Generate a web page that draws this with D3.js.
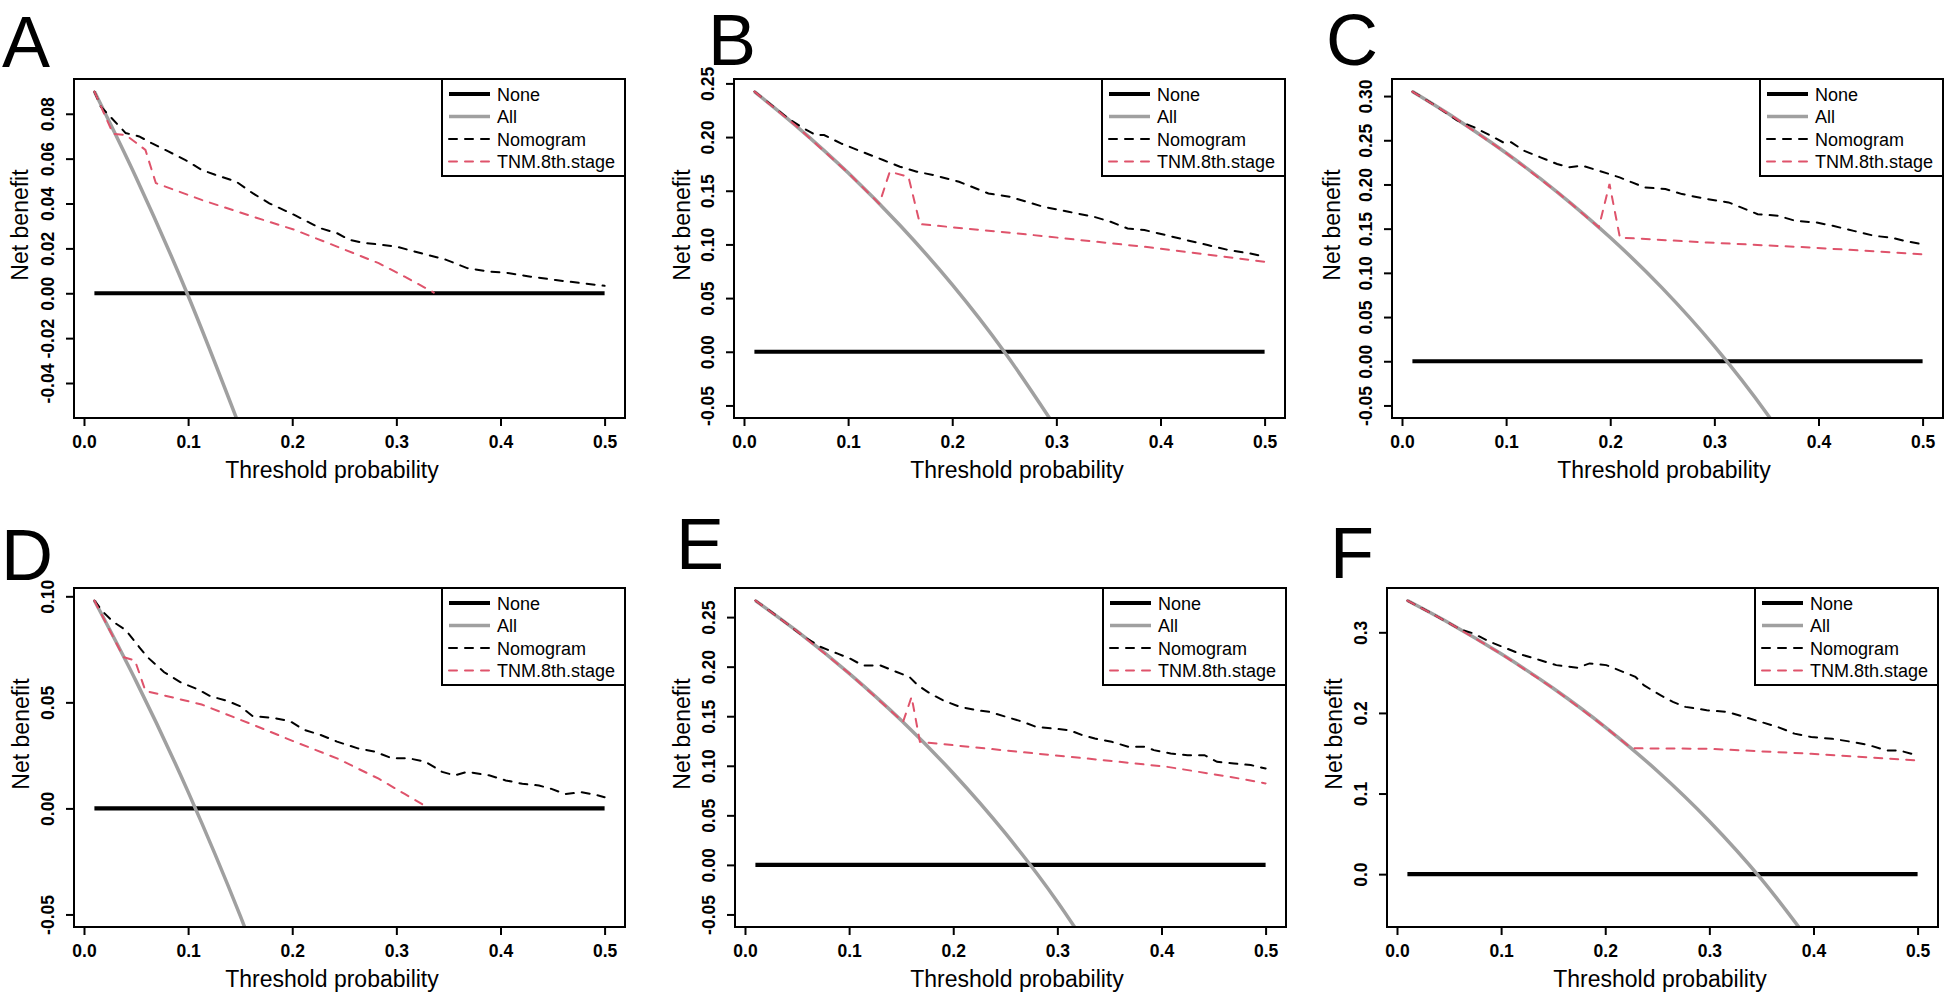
<!DOCTYPE html>
<html>
<head>
<meta charset="utf-8">
<script src="https://cdn.jsdelivr.net/npm/d3@7"></script>
<style>
  body { margin: 0; background: #fff; }
  svg { display: block; font-family: "Liberation Sans", Arial, sans-serif; }
</style>
</head>
<body>
<svg id="fig" width="1944" height="996"></svg>
<script>
// Threshold axis shared by all panels
const xTicks = [0, 0.1, 0.2, 0.3, 0.4, 0.5];
const seriesNames = ['None', 'All', 'Nomogram', 'TNM.8th.stage'];

// Net benefit ticks per panel
const yTicksA = [-0.04, -0.02, 0, 0.02, 0.04, 0.06, 0.08];
const yTicksB = [-0.05, 0, 0.05, 0.10, 0.15, 0.20, 0.25];
const yTicksC = [-0.05, 0, 0.05, 0.10, 0.15, 0.20, 0.25, 0.30];
const yTicksD = [-0.05, 0, 0.05, 0.10];
const yTicksE = [-0.05, 0, 0.05, 0.10, 0.15, 0.20, 0.25];
const yTicksF = [0, 0.1, 0.2, 0.3];

// "All" curves [threshold, net benefit]
const allA = [[0.01,0.0899],[0.05,0.0516],[0.10,-0.0011],[0.15,-0.0600]];
const allB = [[0.01,0.2424],[0.05,0.2105],[0.10,0.1667],[0.15,0.1176],[0.20,0.0625],[0.25,0.0],[0.30,-0.0714]];
const allC = [[0.01,0.3051],[0.05,0.2758],[0.10,0.2356],[0.15,0.1906],[0.20,0.1400],[0.25,0.0827],[0.30,0.0171],[0.35,-0.0585],[0.40,-0.1467]];
const allD = [[0.01,0.0980],[0.05,0.0600],[0.10,0.0078],[0.15,-0.0506],[0.20,-0.1163]];
const allE = [[0.01,0.2667],[0.05,0.2358],[0.10,0.1933],[0.15,0.1459],[0.20,0.0925],[0.25,0.0320],[0.30,-0.0371],[0.35,-0.1170]];
const allF = [[0.01,0.3394],[0.05,0.3116],[0.10,0.2733],[0.15,0.2306],[0.20,0.1825],[0.25,0.1280],[0.30,0.0657],[0.35,-0.0062],[0.40,-0.0900]];

// Nomogram curves
const nomoA = [[0.01,0.0899],[0.016,0.0833],[0.040,0.0714],[0.053,0.0699],[0.065,0.0669],[0.081,0.0632],[0.097,0.0595],[0.113,0.0550],[0.126,0.0528],[0.146,0.0498],[0.162,0.0446],[0.178,0.0401],[0.202,0.0349],[0.227,0.0290],[0.243,0.0268],[0.255,0.0238],[0.267,0.0226],[0.300,0.0208],[0.324,0.0178],[0.348,0.0149],[0.368,0.0112],[0.389,0.0097],[0.405,0.0092],[0.429,0.0074],[0.453,0.0059],[0.478,0.0045],[0.500,0.0033]];
const nomoB = [[0.01,0.2424],[0.0425,0.2174],[0.0547,0.2096],[0.0688,0.2019],[0.0769,0.2019],[0.0931,0.1941],[0.1134,0.1863],[0.1336,0.1786],[0.1498,0.1724],[0.166,0.1677],[0.1822,0.1646],[0.2065,0.1584],[0.2348,0.1475],[0.255,0.1444],[0.2713,0.1398],[0.2874,0.1351],[0.3117,0.1304],[0.336,0.1258],[0.3522,0.1211],[0.3684,0.1149],[0.3846,0.1134],[0.4049,0.1087],[0.4251,0.104],[0.4453,0.0994],[0.4656,0.0947],[0.4858,0.0916],[0.5,0.0885]];
const nomoC = [[0.01,0.3051],[0.03,0.2907],[0.053,0.2725],[0.069,0.2648],[0.085,0.2553],[0.097,0.2477],[0.105,0.2477],[0.117,0.2383],[0.133,0.2307],[0.149,0.2231],[0.161,0.2194],[0.173,0.2213],[0.189,0.2156],[0.209,0.208],[0.221,0.2023],[0.233,0.1967],[0.253,0.1948],[0.269,0.1891],[0.2935,0.1834],[0.3136,0.1797],[0.3256,0.174],[0.3416,0.1664],[0.3617,0.1645],[0.3777,0.1589],[0.3978,0.157],[0.4138,0.1532],[0.4338,0.1475],[0.4539,0.1418],[0.4699,0.1399],[0.482,0.1362],[0.5,0.1324]];
const nomoD = [[0.01,0.0980],[0.018,0.0928],[0.028,0.088],[0.04,0.0841],[0.053,0.0761],[0.061,0.0713],[0.077,0.0642],[0.093,0.0594],[0.109,0.0562],[0.121,0.053],[0.138,0.0506],[0.15,0.0482],[0.162,0.0435],[0.182,0.0427],[0.198,0.0411],[0.211,0.0371],[0.227,0.0347],[0.243,0.0315],[0.263,0.0283],[0.279,0.0268],[0.296,0.0236],[0.312,0.0236],[0.328,0.022],[0.344,0.0172],[0.356,0.0156],[0.368,0.0172],[0.389,0.0156],[0.405,0.0132],[0.421,0.0116],[0.437,0.0108],[0.449,0.0092],[0.462,0.0068],[0.478,0.0076],[0.494,0.0061],[0.5,0.0053]];
const nomoE = [[0.01,0.2667],[0.03,0.2515],[0.057,0.2299],[0.0729,0.2198],[0.089,0.2131],[0.101,0.2081],[0.113,0.2013],[0.13,0.2013],[0.1417,0.1963],[0.158,0.1896],[0.166,0.1812],[0.178,0.1728],[0.19,0.1661],[0.2065,0.1594],[0.2227,0.156],[0.2348,0.1544],[0.251,0.1493],[0.267,0.1443],[0.2794,0.1393],[0.2955,0.1376],[0.3117,0.1359],[0.3239,0.1309],[0.336,0.1275],[0.3522,0.1242],[0.3684,0.1191],[0.3846,0.1191],[0.3927,0.1158],[0.4089,0.1124],[0.4251,0.1107],[0.4413,0.1107],[0.4534,0.104],[0.4696,0.1023],[0.4858,0.1007],[0.5,0.0973]];
const nomoF = [[0.01,0.3394],[0.03,0.3258],[0.061,0.3035],[0.073,0.2988],[0.089,0.2884],[0.105,0.2801],[0.121,0.2718],[0.137,0.2656],[0.153,0.2593],[0.173,0.256],[0.185,0.2614],[0.201,0.2593],[0.217,0.251],[0.229,0.2448],[0.237,0.2344],[0.253,0.222],[0.265,0.2137],[0.277,0.2075],[0.2975,0.2033],[0.3176,0.2012],[0.3336,0.195],[0.3496,0.1888],[0.3657,0.1826],[0.3817,0.1743],[0.3978,0.1701],[0.4178,0.168],[0.4378,0.1639],[0.4539,0.1598],[0.4699,0.1535],[0.482,0.1535],[0.494,0.1494],[0.5,0.1452]];

// TNM 8th stage curves
const tnmA = [[0.01,0.0899],[0.028,0.0710],[0.040,0.0706],[0.059,0.0639],[0.069,0.0491],[0.113,0.0416],[0.162,0.0342],[0.202,0.0283],[0.243,0.0208],[0.283,0.0134],[0.308,0.0074],[0.336,0.0003]];
const tnmB = [[0.01,0.2424],[0.05,0.2105],[0.10,0.1667],[0.13,0.1379],[0.14,0.1677],[0.158,0.1630],[0.169,0.1189],[0.263,0.1102],[0.385,0.0978],[0.5,0.0839]];
const tnmC = [[0.01,0.3051],[0.05,0.2758],[0.10,0.2356],[0.15,0.1906],[0.189,0.1515],[0.1993,0.2005],[0.2093,0.1399],[0.2935,0.1343],[0.3938,0.1286],[0.5,0.121]];
const tnmD = [[0.01,0.0980],[0.038,0.0713],[0.049,0.0697],[0.059,0.0554],[0.113,0.049],[0.162,0.0395],[0.202,0.0315],[0.243,0.0236],[0.283,0.014],[0.308,0.0068],[0.33,0.0005]];
const tnmE = [[0.01,0.2667],[0.05,0.2358],[0.10,0.1933],[0.1518,0.1443],[0.16,0.1695],[0.168,0.1242],[0.263,0.1141],[0.344,0.1057],[0.405,0.099],[0.4656,0.0889],[0.5,0.0822]];
const tnmF = [[0.01,0.3394],[0.05,0.3116],[0.10,0.2733],[0.15,0.2306],[0.20,0.1825],[0.225,0.1561],[0.2975,0.1556],[0.3978,0.1494],[0.5,0.1411]];

// the None line is zero over the whole threshold range
const noneLine = [[0.01,0],[0.5,0]];

const boxW = 551;
const boxH = 339;
const colors = { none: '#000', all: '#a0a0a0', nomo: '#000', tnm: '#DF536B' };

let panels = [
    {id:'A', all:allA, nomo:nomoA, tnm:tnmA, yTicks:yTicksA, fmt:'.2f', left:74,   top:79,  letter:[2,67],     titleDx:258, ylabDx:46},
    {id:'B', all:allB, nomo:nomoB, tnm:tnmB, yTicks:yTicksB, fmt:'.2f', left:734,  top:79,  letter:[708,65],   titleDx:283, ylabDx:44},
    {id:'C', all:allC, nomo:nomoC, tnm:tnmC, yTicks:yTicksC, fmt:'.2f', left:1392, top:79,  letter:[1326,65],  titleDx:272, ylabDx:52},
    {id:'D', all:allD, nomo:nomoD, tnm:tnmD, yTicks:yTicksD, fmt:'.2f', left:74,   top:588, letter:[1,580],    titleDx:258, ylabDx:45},
    {id:'E', all:allE, nomo:nomoE, tnm:tnmE, yTicks:yTicksE, fmt:'.2f', left:735,  top:588, letter:[676,569],  titleDx:282, ylabDx:45},
    {id:'F', all:allF, nomo:nomoF, tnm:tnmF, yTicks:yTicksF, fmt:'.1f', left:1387, top:588, letter:[1330,578], titleDx:273, ylabDx:45}
];

let svg = d3.select('#fig');
svg.append('rect').attr('width', 1944).attr('height', 996).attr('fill', '#fff');

panels.forEach(p => drawPanel(svg, p));

// R style 4% padding of the data range
function pad(ext) {
    let r = ext[1] - ext[0];
    return [ext[0] - 0.04 * r, ext[1] + 0.04 * r];
}

// R prints a plain hyphen for negatives
function rFormat(spec) {
    let f = d3.format(spec);
    return d => f(d).replace('\u2212', '-');
}

function drawPanel(svg, p) {
    let g = svg.append('g').attr('class', 'panel-' + p.id);
    let x = d3.scaleLinear().domain(pad([0.01, 0.5])).range([p.left, p.left + boxW]);
    let yMax = d3.max(p.all, d => d[1]);
    let y = d3.scaleLinear().domain(pad([-0.05, yMax])).range([p.top + boxH, p.top]);

    // clip the curves to the plot box
    g.append('clipPath').attr('id', 'clip' + p.id)
        .append('rect')
        .attr('x', p.left).attr('y', p.top)
        .attr('width', boxW).attr('height', boxH);

    let line = d3.line().x(d => x(d[0])).y(d => y(d[1]));
    let smooth = d3.line().curve(d3.curveMonotoneX).x(d => x(d[0])).y(d => y(d[1]));

    let lines = g.append('g').attr('clip-path', 'url(#clip' + p.id + ')').attr('fill', 'none');
    lines.append('path').attr('d', line(noneLine))
        .attr('stroke', colors.none).attr('stroke-width', 4.2);
    lines.append('path').attr('d', smooth(p.all))
        .attr('stroke', colors.all).attr('stroke-width', 3.5);
    lines.append('path').attr('d', line(p.nomo))
        .attr('stroke', colors.nomo).attr('stroke-width', 2)
        .attr('stroke-dasharray', '8,8').attr('stroke-linecap', 'round');
    lines.append('path').attr('d', line(p.tnm))
        .attr('stroke', colors.tnm).attr('stroke-width', 2)
        .attr('stroke-dasharray', '8,8').attr('stroke-linecap', 'round');

    // x axis
    let xAxis = g.append('g')
        .attr('transform', 'translate(0,' + (p.top + boxH) + ')')
        .call(d3.axisBottom(x).tickValues(xTicks).tickFormat(d3.format('.1f')).tickSize(8).tickPadding(10));
    xAxis.select('.domain').remove();
    xAxis.selectAll('.tick line').attr('stroke-width', 2);
    xAxis.selectAll('.tick text')
        .attr('font-size', 17.5).attr('font-weight', 'bold')
        .attr('font-family', '"Liberation Sans", Arial, sans-serif');

    // y axis, labels turned parallel to the axis as in R
    let yAxis = g.append('g')
        .attr('transform', 'translate(' + p.left + ',0)')
        .call(d3.axisLeft(y).tickValues(p.yTicks).tickFormat(rFormat(p.fmt)).tickSize(8));
    yAxis.select('.domain').remove();
    yAxis.selectAll('.tick line').attr('stroke-width', 2);
    yAxis.selectAll('.tick text')
        .attr('transform', 'rotate(-90)')
        .attr('x', 0).attr('y', -20).attr('dy', 0)
        .attr('text-anchor', 'middle')
        .attr('font-size', 17.5).attr('font-weight', 'bold')
        .attr('font-family', '"Liberation Sans", Arial, sans-serif');

    // plot box
    g.append('rect')
        .attr('x', p.left).attr('y', p.top)
        .attr('width', boxW).attr('height', boxH)
        .attr('fill', 'none').attr('stroke', '#000').attr('stroke-width', 2);

    // axis titles
    g.append('text')
        .attr('x', p.left + p.titleDx).attr('y', p.top + boxH + 60)
        .attr('text-anchor', 'middle').attr('font-size', 23)
        .text('Threshold probability');
    g.append('text')
        .attr('transform', 'translate(' + (p.left - p.ylabDx) + ',' + (p.top + 146) + ') rotate(-90)')
        .attr('text-anchor', 'middle').attr('font-size', 23)
        .text('Net benefit');

    // panel letter
    g.append('text')
        .attr('x', p.letter[0]).attr('y', p.letter[1])
        .attr('font-size', 72)
        .text(p.id);

    drawLegend(g, p.left + boxW - 183, p.top);
}

function drawLegend(g, lx, ly) {
    let leg = g.append('g').attr('transform', 'translate(' + lx + ',' + ly + ')');
    leg.append('rect')
        .attr('width', 183).attr('height', 97)
        .attr('fill', '#fff').attr('stroke', '#000').attr('stroke-width', 2);

    let styles = [
        {color: colors.none, width: 4.2, dash: null},
        {color: colors.all, width: 3.5, dash: null},
        {color: colors.nomo, width: 2, dash: '8,8'},
        {color: colors.tnm, width: 2, dash: '8,8'}
    ];
    let rows = leg.selectAll('g.row')
        .data(seriesNames)
        .enter()
        .append('g')
        .attr('class', 'row')
        .attr('transform', (d, i) => 'translate(0,' + (15 + i * 22.5) + ')');

    rows.append('line')
        .attr('x1', 7).attr('x2', 48)
        .attr('stroke', (d, i) => styles[i].color)
        .attr('stroke-width', (d, i) => styles[i].width)
        .attr('stroke-dasharray', (d, i) => styles[i].dash)
        .attr('stroke-linecap', (d, i) => styles[i].dash ? 'round' : 'butt');

    rows.append('text')
        .attr('x', 55).attr('y', 6.5)
        .attr('font-size', 18)
        .text(d => d);
}
</script>
</body>
</html>
